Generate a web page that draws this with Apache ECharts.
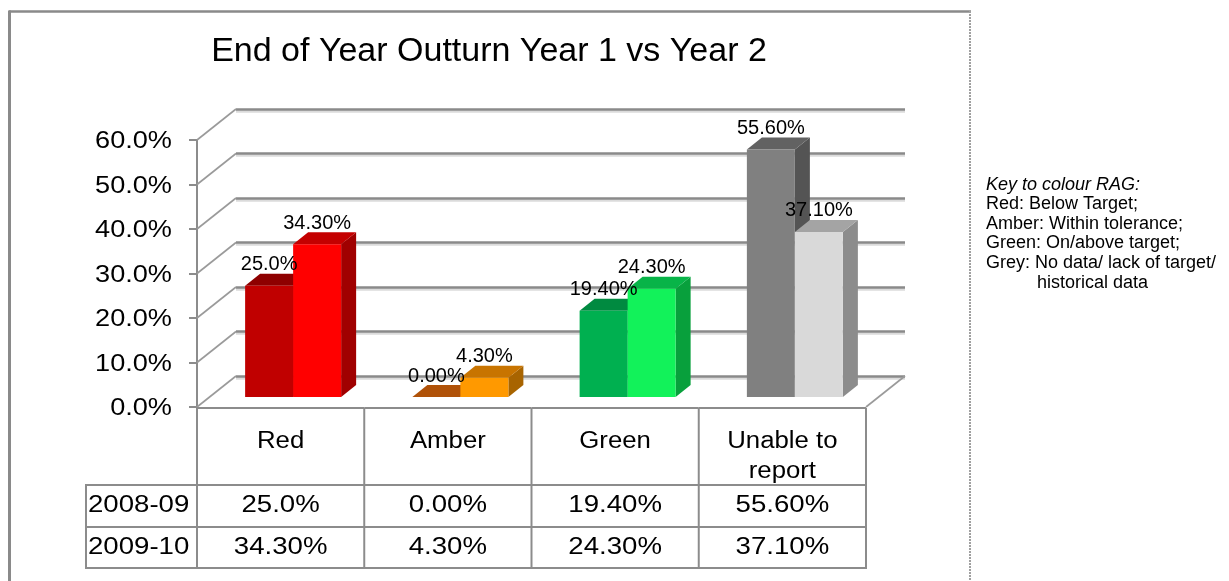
<!DOCTYPE html>
<html><head><meta charset="utf-8">
<script src="https://cdn.jsdelivr.net/npm/echarts@6/dist/echarts.min.js"></script>
<style>html,body{margin:0;padding:0;background:#fff}#c{width:1229px;height:581px}</style>
</head><body><div id="c"></div>
<script>
// ---- data ----
const categories = ['Red', 'Amber', 'Green', 'Unable to\nreport'];
const seriesNames = ['2008-09', '2009-10'];
const values2008 = [25.0, 0.00, 19.40, 55.60];
const values2009 = [34.30, 4.30, 24.30, 37.10];
const labels2008 = ['25.0%', '0.00%', '19.40%', '55.60%'];
const labels2009 = ['34.30%', '4.30%', '24.30%', '37.10%'];
const yTicks = [0, 10, 20, 30, 40, 50, 60];
const yTickLabels = ['0.0%', '10.0%', '20.0%', '30.0%', '40.0%', '50.0%', '60.0%'];
const titleText = 'End of Year Outturn Year 1 vs Year 2';
const keyTitle = 'Key to colour RAG:';
const keyLines = ['Red: Below Target;', 'Amber: Within tolerance;', 'Green: On/above target;', 'Grey: No data/ lack of target/'];
const keyLastLine = 'historical data';

// ---- styles ----
const FONT = '"Liberation Sans", Arial, Helvetica, sans-serif';
const barColors = [
  [{front:'#C00000', top:'#8E0000', side:'#7A0000'}, {front:'#FF0000', top:'#C40000', side:'#A00000'}],
  [{front:'#C05A00', top:'#B05208', side:'#8C4000'}, {front:'#FF9900', top:'#C87400', side:'#A86400'}],
  [{front:'#00B050', top:'#008A40', side:'#007034'}, {front:'#12F25A', top:'#08B448', side:'#08A03C'}],
  [{front:'#808080', top:'#626262', side:'#545454'}, {front:'#D9D9D9', top:'#A4A4A4', side:'#8C8C8C'}]
];
const LINE = '#8c8c8c';
const BASE = {left: 209.5, top: 130, width: 669, height: 267};
const FRONT = {dx: -12.5, dy: 10};
const BACK = {dx: 26.5, dy: -21};
const DEPTH = {dx: 15, dy: -12};
const BAR_FRAC = 0.287;

function gridAt(o) {
  return {left: BASE.left + o.dx, top: BASE.top + o.dy, width: BASE.width, height: BASE.height, outerBoundsMode: 'none', containLabel: false};
}
function stext(x, y, text, size, sx, align, valign, extra) {
  return Object.assign({
    type: 'text', x: x, y: y, scaleX: sx,
    style: {text: text, fontSize: size, fontFamily: FONT, fill: '#000', align: align, verticalAlign: valign}
  }, extra || {});
}
function ln(x1, y1, x2, y2, color, w) {
  return {type: 'line', shape: {x1: x1, y1: y1, x2: x2, y2: y2}, style: {stroke: color, lineWidth: w}};
}

const valueAxis = (extra) => Object.assign({type: 'value', min: 0, max: 60, interval: 10,
  axisLabel: {show: false}, axisLine: {show: false}, axisTick: {show: false}, splitLine: {show: false}}, extra || {});
const catAxis = (gi) => ({type: 'category', gridIndex: gi, data: categories, show: false, boundaryGap: true});

function barRender(s) {
  return function (params, api) {
    const i = api.value(0), v = api.value(1);
    const band = api.size([1, 0])[0];
    const c = api.coord([i, v]);
    const b = api.coord([i, 0]);
    const bw = band * BAR_FRAC;
    const x0 = s === 0 ? c[0] - bw : c[0];
    const x1 = x0 + bw;
    const yt = c[1], yb = b[1];
    const col = barColors[i][s];
    return {type: 'group', children: [
      {type: 'polygon', shape: {points: [[x1, yb], [x1 + DEPTH.dx, yb + DEPTH.dy], [x1 + DEPTH.dx, yt + DEPTH.dy], [x1, yt]]}, style: {fill: col.side}},
      {type: 'polygon', shape: {points: [[x0, yt], [x1, yt], [x1 + DEPTH.dx, yt + DEPTH.dy], [x0 + DEPTH.dx, yt + DEPTH.dy]]}, style: {fill: col.top}},
      {type: 'rect', shape: {x: x0, y: yt, width: bw, height: yb - yt}, style: {fill: col.front}}
    ]};
  };
}

const labelData = [];
values2008.forEach((v, i) => labelData.push([i, v, 0]));
values2009.forEach((v, i) => labelData.push([i, v, 1]));

const option = {
  animation: false,
  backgroundColor: '#fff',
  grid: [gridAt({dx: 0, dy: 0}), gridAt(FRONT), gridAt(BACK)],
  xAxis: [catAxis(0), catAxis(1), catAxis(2)],
  yAxis: [
    valueAxis({gridIndex: 0}),
    valueAxis({gridIndex: 1, axisLine: {show: true, lineStyle: {color: LINE, width: 2}},
      axisTick: {show: true, length: 8, inside: false, lineStyle: {color: LINE, width: 2}}}),
    valueAxis({gridIndex: 2, splitLine: {show: true, lineStyle: {color: '#8a8a8a', width: 2.5, shadowColor: 'rgba(0,0,0,0.14)', shadowOffsetY: 2}}})
  ],
  graphic: [
    // outer frame
    {type: 'line', z: 0, shape: {x1: 9, y1: 11.5, x2: 971, y2: 11.5}, style: {stroke: '#8a8a8a', lineWidth: 2.5}},
    {type: 'line', z: 0, shape: {x1: 9.5, y1: 10.5, x2: 9.5, y2: 600}, style: {stroke: '#8a8a8a', lineWidth: 3}},
    {type: 'line', z: 0, shape: {x1: 970, y1: 11, x2: 970, y2: 600}, style: {stroke: '#a0a0a0', lineWidth: 2, lineDash: [2, 1]}},
    // title
    {type: 'text', x: 489, y: 52, style: {text: titleText, fontSize: 34, fontFamily: FONT, fill: '#000', align: 'center', verticalAlign: 'middle'}},
    // key
    {type: 'text', x: 986, y: 185, style: {text: keyTitle, fontSize: 18, fontStyle: 'italic', fontFamily: FONT, fill: '#000', align: 'left', verticalAlign: 'middle'}},
    ...keyLines.map((t, k) => ({type: 'text', x: 986, y: 204.5 + k * 19.5, style: {text: t, fontSize: 18, fontFamily: FONT, fill: '#000', align: 'left', verticalAlign: 'middle'}})),
    {type: 'text', x: 1037, y: 283, style: {text: keyLastLine, fontSize: 18, fontFamily: FONT, fill: '#000', align: 'left', verticalAlign: 'middle'}}
  ],
  series: [
    { // side wall diagonals + right floor edge
      type: 'custom', xAxisIndex: 0, yAxisIndex: 0, clip: false, silent: true, z: 1,
      data: yTicks.map(v => [0, v]),
      renderItem: function (params, api) {
        const cs = params.coordSys;
        const v = api.value(1);
        const y = api.coord([0, v])[1];
        const ch = [ln(cs.x + FRONT.dx, y + FRONT.dy, cs.x + BACK.dx, y + BACK.dy, '#9a9a9a', 1.6)];
        if (v === 0) {
          const xr = cs.x + cs.width;
          ch.push(ln(xr + BACK.dx, y + BACK.dy, xr + FRONT.dx, y + FRONT.dy, '#9a9a9a', 1.6));
        }
        return {type: 'group', children: ch};
      }
    },
    {type: 'custom', name: seriesNames[0], xAxisIndex: 0, yAxisIndex: 0, clip: false, z: 3,
      data: values2008.map((v, i) => [i, v]), renderItem: barRender(0)},
    {type: 'custom', name: seriesNames[1], xAxisIndex: 0, yAxisIndex: 0, clip: false, z: 3,
      data: values2009.map((v, i) => [i, v]), renderItem: barRender(1)},
    { // bar value labels
      type: 'custom', xAxisIndex: 0, yAxisIndex: 0, clip: false, z: 5, silent: true,
      data: labelData,
      renderItem: function (params, api) {
        const i = api.value(0), v = api.value(1), s = api.value(2);
        const band = api.size([1, 0])[0];
        const c = api.coord([i, v]);
        const bw = band * BAR_FRAC;
        const x0 = s === 0 ? c[0] - bw : c[0];
        const txt = (s === 0 ? labels2008 : labels2009)[i];
        return stext(x0 + bw / 2, c[1] + DEPTH.dy + 1, txt, 20, 1, 'center', 'bottom');
      }
    },
    { // front y-axis labels
      type: 'custom', xAxisIndex: 1, yAxisIndex: 1, clip: false, silent: true, z: 4,
      data: yTicks.map(v => [0, v]),
      renderItem: function (params, api) {
        const cs = params.coordSys;
        const v = api.value(1);
        const y = api.coord([0, v])[1];
        return stext(cs.x - 25, y + 2, yTickLabels[yTicks.indexOf(v)], 23, 1.18, 'right', 'middle');
      }
    },
    { // data table (category axis + values)
      type: 'custom', xAxisIndex: 1, yAxisIndex: 1, clip: false, silent: true, z: 6,
      data: categories.map((c, i) => [i, 0]),
      renderItem: function (params, api) {
        const cs = params.coordSys;
        const i = api.value(0);
        const band = api.size([1, 0])[0];
        const cx = api.coord([i, 0])[0];
        const x0 = cx - band / 2, x1 = cx + band / 2;
        const yTop = cs.y + cs.height + 1;
        const yH = yTop + 77, yR1 = yH + 42, yR2 = yR1 + 41;
        const ch = [
          ln(x0, yTop, x1, yTop, LINE, 2),
          ln(x0, yH, x1, yH, LINE, 2),
          ln(x0, yR1, x1, yR1, LINE, 2),
          ln(x0, yR2, x1, yR2, LINE, 2),
          ln(x1, yTop, x1, yR2 + 1, LINE, 2)
        ];
        if (i === 0) {
          ch.push(ln(x0, yTop - 1, x0, yR2 + 1, LINE, 2));
          const lx = 86;
          ch.push(ln(lx, yH, x0, yH, LINE, 2), ln(lx, yR1, x0, yR1, LINE, 2), ln(lx, yR2, x0, yR2, LINE, 2),
            ln(lx, yH - 1, lx, yR2 + 1, LINE, 2));
          ch.push(stext(lx + 2, (yH + yR1) / 2, seriesNames[0], 23, 1.2, 'left', 'middle'));
          ch.push(stext(lx + 2, (yR1 + yR2) / 2, seriesNames[1], 23, 1.2, 'left', 'middle'));
        }
        categories[i].split('\n').forEach((t, k) => ch.push(stext(cx, yTop + 34 + k * 30, t, 23, 1.12, 'center', 'middle')));
        ch.push(stext(cx, (yH + yR1) / 2, labels2008[i], 23, 1.2, 'center', 'middle'));
        ch.push(stext(cx, (yR1 + yR2) / 2, labels2009[i], 23, 1.2, 'center', 'middle'));
        return {type: 'group', children: ch};
      }
    }
  ]
};
const chart = echarts.init(document.getElementById('c'));
chart.setOption(option);
</script>
</body></html>
